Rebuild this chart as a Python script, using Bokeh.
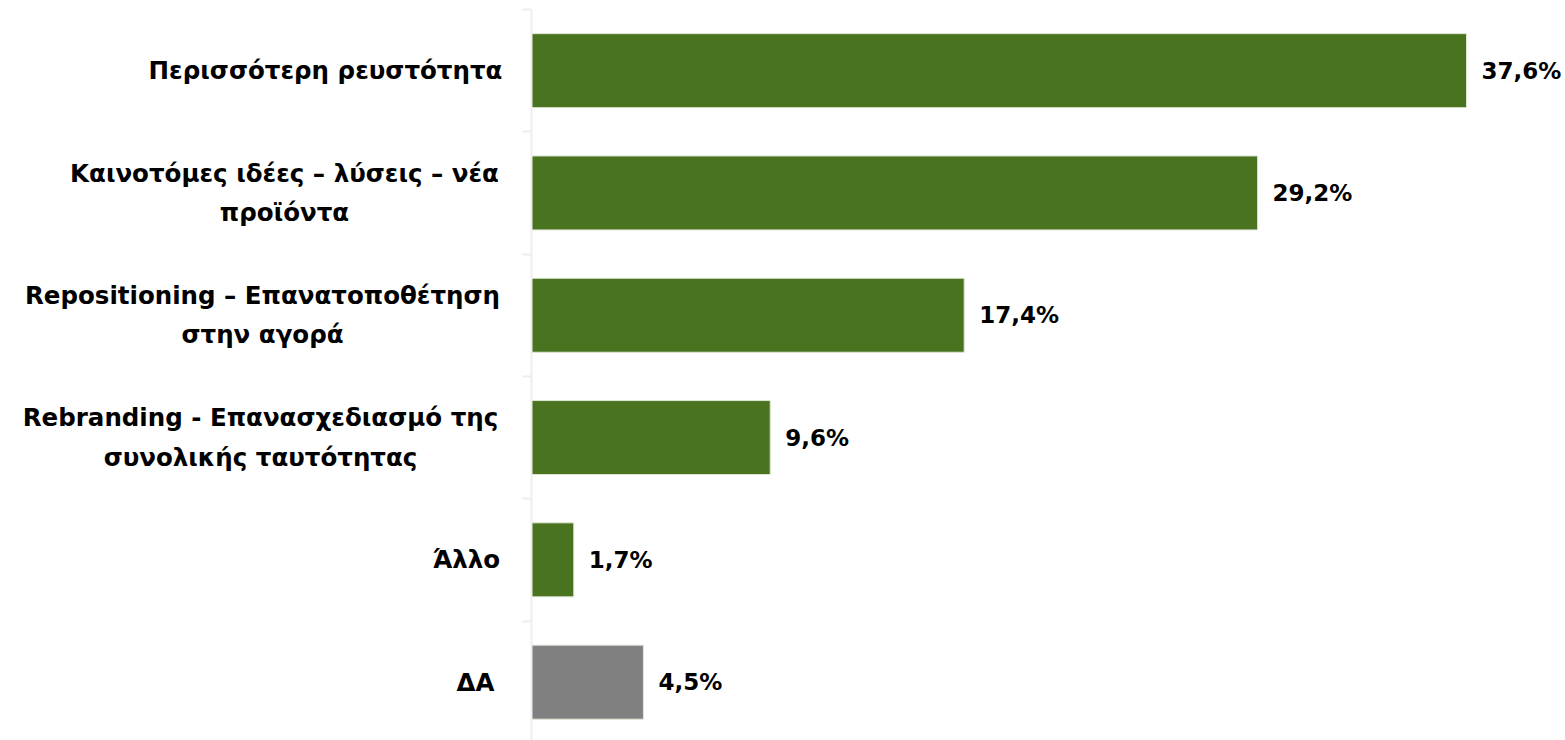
from bokeh.plotting import figure
from bokeh.layouts import row
from bokeh.models import ColumnDataSource, Range1d, FixedTicker, LabelSet, LinearAxis
from bokeh.core.properties import value
from bokeh.embed import file_html
from bokeh.resources import INLINE

categories = [
    "Περισσότερη ρευστότητα",
    "Καινοτόμες ιδέες – λύσεις – νέα\nπροϊόντα",
    "Repositioning – Επανατοποθέτηση\nστην αγορά",
    "Rebranding - Επανασχεδιασμό της\nσυνολικής ταυτότητας",
    "Άλλο",
    "ΔΑ",
]
values = [37.6, 29.2, 17.4, 9.6, 1.7, 4.5]
value_labels = ["37,6%", "29,2%", "17,4%", "9,6%", "1,7%", "4,5%"]
bar_colors = ["#4a7320", "#4a7320", "#4a7320", "#4a7320", "#4a7320", "#808080"]

# styling: horizontal centre (px) of each category label block in the label panel
label_centers = [325, 284, 262, 260, 466, 475]

FONT = "DejaVu Sans"

pos = [i + 0.5 for i in range(len(categories))]
source = ColumnDataSource(dict(y=pos, v=values, lab=value_labels, c=bar_colors,
                               cat=categories, cx=label_centers))

px_per_unit = 935 / 37.6
W, H = 1565, 740
LEFT, TOP = 531, 9
GAP = 20
frame_w = W - LEFT
frame_h = H - TOP

y_range = Range1d(frame_h / 122.3, 0)

# label panel
lp = figure(
    width=LEFT - GAP, height=H, output_backend="svg", toolbar_location=None,
    x_range=Range1d(0, LEFT - GAP), y_range=y_range,
    min_border_left=0, min_border_right=0, min_border_top=TOP, min_border_bottom=0,
)
lp.outline_line_color = None
lp.grid.visible = False
lp.xaxis.visible = False
lp.yaxis.visible = False
lp.text(x="cx", y="y", text="cat", source=source,
        text_align="center", text_baseline="middle",
        text_font=value(FONT), text_font_style="bold",
        text_font_size="24.5px", text_line_height=1.35, text_color="#000000")

# bar panel
p = figure(
    width=W - (LEFT - GAP), height=H, output_backend="svg", toolbar_location=None,
    x_range=Range1d(0, frame_w / px_per_unit), y_range=y_range,
    min_border_left=GAP, min_border_right=0, min_border_top=TOP, min_border_bottom=0,
)
p.outline_line_color = None
p.grid.visible = False
p.xaxis.visible = False
p.yaxis.visible = False

p.hbar(y="y", right="v", left=0, height=0.605, fill_color="c", line_color="#dfe6d6",
       line_width=1, source=source)

ax = LinearAxis(
    ticker=FixedTicker(ticks=[], minor_ticks=list(range(len(categories) + 1))),
    major_tick_out=0, major_tick_in=0,
    minor_tick_out=9, minor_tick_in=0,
    minor_tick_line_color="#eeeeee", minor_tick_line_width=2,
    axis_line_color="#eeeeee", axis_line_width=2,
    major_label_standoff=0,
)
p.add_layout(ax, "left")

labels = LabelSet(x="v", y="y", text="lab", source=source, x_offset=15,
                  text_align="left", text_baseline="middle",
                  text_font=value(FONT), text_font_style="bold", text_font_size="23px",
                  text_color="#000000")
p.add_layout(labels)

layout = row(lp, p, spacing=0)
open("out.html", "w").write(file_html(layout, INLINE))
